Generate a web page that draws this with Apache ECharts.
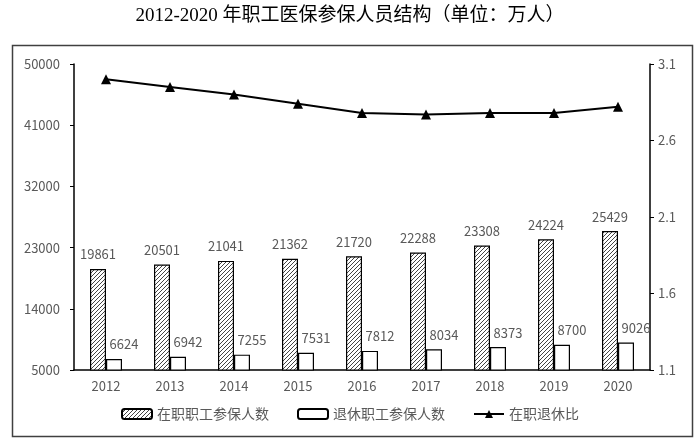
<!DOCTYPE html>
<html>
<head>
<meta charset="utf-8">
<script src="https://cdn.jsdelivr.net/npm/echarts@6/dist/echarts.min.js"></script>
<style>
  html, body { margin: 0; padding: 0; background: #fff; }
  #main { width: 700px; height: 444px; }
</style>
</head>
<body>
<div id="main"></div>
<script>
// 年份
var years = ['2012', '2013', '2014', '2015', '2016', '2017', '2018', '2019', '2020']
// 在职职工参保人数（万人）
var workerNum = [19861, 20501, 21041, 21362, 21720, 22288, 23308, 24224, 25429]
// 退休职工参保人数（万人）
var retiredNum = [6624, 6942, 7255, 7531, 7812, 8034, 8373, 8700, 9026]
// 在职退休比
var ratio = [3.00, 2.95, 2.90, 2.84, 2.78, 2.77, 2.78, 2.78, 2.82]
// 刻度
var leftTicks = [5000, 14000, 23000, 32000, 41000, 50000]
var rightTicks = [1.1, 1.6, 2.1, 2.6, 3.1]

// 斜线填充
function hatch() {
  var c = document.createElement('canvas')
  c.width = 4
  c.height = 4
  var ctx = c.getContext('2d')
  ctx.fillStyle = '#ffffff'
  ctx.fillRect(0, 0, 4, 4)
  ctx.strokeStyle = '#444444'
  ctx.lineWidth = 1
  ctx.beginPath()
  ctx.moveTo(-1, 5); ctx.lineTo(5, -1)
  ctx.moveTo(-1, 1); ctx.lineTo(1, -1)
  ctx.moveTo(3, 5); ctx.lineTo(5, 3)
  ctx.stroke()
  return c
}

var textColor = '#595959'
var font = "'Noto Sans CJK SC', sans-serif"

var myChart = echarts.init(document.getElementById('main'))
myChart.setOption({
  animation: false,
  textStyle: { fontFamily: font },
  title: {
    text: '2012-2020 年职工医保参保人员结构（单位：万人）',
    left: 'center',
    top: 2,
    textStyle: {
      fontFamily: "'Liberation Serif', 'Noto Sans CJK SC', serif",
      fontSize: 19,
      fontWeight: 'normal',
      color: '#000'
    }
  },
  graphic: [{
    type: 'rect',
    shape: { x: 12.5, y: 45.5, width: 680, height: 391 },
    style: { fill: 'none', stroke: '#404040', lineWidth: 1.5 },
    silent: true,
    z: -1
  }],
  grid: { left: 74, right: 50, top: 64, bottom: 74 },
  legend: {
    bottom: 18,
    left: 'center',
    itemWidth: 30,
    itemHeight: 10,
    itemGap: 28,
    textStyle: { color: textColor, fontSize: 14 },
    data: ['在职职工参保人数', '退休职工参保人数', '在职退休比']
  },
  xAxis: {
    type: 'category',
    data: years,
    axisLine: { lineStyle: { color: '#000', width: 1.5 } },
    axisTick: { show: false },
    axisLabel: { color: textColor, fontSize: 13, margin: 10 }
  },
  yAxis: [{
    type: 'value',
    min: 5000,
    max: 50000,
    axisLine: { show: true, lineStyle: { color: '#000', width: 1.5 } },
    axisTick: { show: true, length: 4, customValues: leftTicks, lineStyle: { color: '#000' } },
    axisLabel: {
      color: textColor, fontSize: 13, margin: 14, customValues: leftTicks,
      formatter: function (v) { return String(v) }
    },
    splitLine: { show: false }
  }, {
    type: 'value',
    min: 1.1,
    max: 3.1,
    axisLine: { show: true, lineStyle: { color: '#000', width: 1.5 } },
    axisTick: { show: true, length: 4, customValues: rightTicks, lineStyle: { color: '#000' } },
    axisLabel: { color: textColor, fontSize: 13, margin: 8, customValues: rightTicks },
    splitLine: { show: false }
  }],
  series: [{
    name: '在职职工参保人数',
    type: 'bar',
    data: workerNum,
    barWidth: 16,
    barGap: '0%',
    itemStyle: { color: { image: hatch(), repeat: 'repeat' }, borderColor: '#000', borderWidth: 1.2 },
    label: { show: true, position: 'top', distance: 8, color: textColor, fontSize: 13 }
  }, {
    name: '退休职工参保人数',
    type: 'bar',
    data: retiredNum,
    barWidth: 16,
    barGap: '0%',
    itemStyle: { color: '#fff', borderColor: '#000', borderWidth: 1.2 },
    label: { show: true, position: 'top', distance: 8, offset: [10, 0], color: textColor, fontSize: 13 }
  }, {
    name: '在职退休比',
    type: 'line',
    yAxisIndex: 1,
    data: ratio,
    symbol: 'triangle',
    symbolSize: 10,
    lineStyle: { color: '#000', width: 2 },
    itemStyle: { color: '#000' }
  }]
})
</script>
</body>
</html>
